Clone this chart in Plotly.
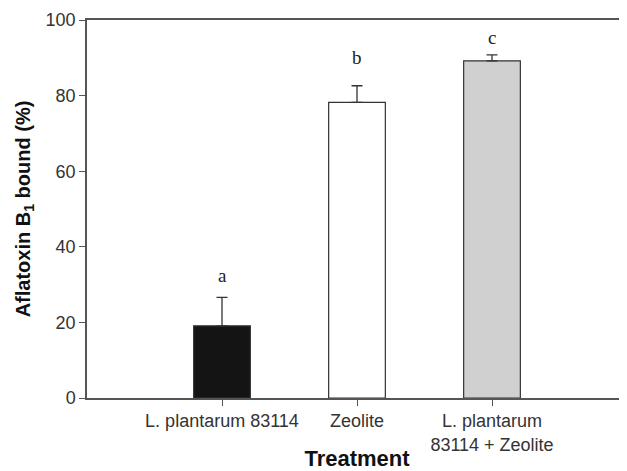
import plotly.graph_objects as go

categories = ["L. plantarum 83114", "Zeolite", "L. plantarum<br>83114 + Zeolite"]
values = [19.1, 78.2, 89.2]
errors = [7.5, 4.4, 1.6]
letters = ["a", "b", "c"]
letter_y = [32.5, 90.0, 95.5]
colors = ["#141414", "#ffffff", "#d0d0d0"]

x = [0, 1, 2]
fig = go.Figure()
fig.add_trace(go.Bar(
    x=x, y=values, width=0.42,
    marker=dict(color=colors, line=dict(color="#333333", width=1.2)),
    error_y=dict(type="data", symmetric=False, array=errors,
                 arrayminus=[0, 0, 0], color="#333333", thickness=1.3, width=5.5),
    showlegend=False,
))
for xi, lt, ly in zip(x, letters, letter_y):
    fig.add_annotation(x=xi, y=ly, text=lt, showarrow=False,
                       font=dict(family="Liberation Serif", size=19, color="#222222"),
                       yanchor="middle")

fig.update_layout(
    width=619, height=463,
    margin=dict(l=79, r=0, t=12, b=73),
    plot_bgcolor="white", paper_bgcolor="white",
    font=dict(family="Liberation Sans, Arial", size=17, color="#333333"),
)
fig.update_xaxes(
    range=[-1, 3], tickvals=x, ticktext=categories, automargin=False,
    showline=True, linecolor="#555555", linewidth=1.5, mirror=True,
    ticks="outside", ticklen=6, tickcolor="#555555", showgrid=False, zeroline=False,
    tickfont=dict(size=18, color="#333333"),
    title=dict(text="<b>Treatment</b>", font=dict(size=22, color="#111111"), standoff=2),
)
fig.update_yaxes(
    range=[0, 100], tickvals=[0, 20, 40, 60, 80, 100], automargin=False,
    showline=True, linecolor="#555555", linewidth=1.5,
    ticks="outside", ticklen=6, tickcolor="#555555", showgrid=False, zeroline=False,
    tickfont=dict(size=18, color="#333333"),
    title=dict(text="<b>Aflatoxin B<sub>1</sub> bound (%)</b>", font=dict(size=20, color="#111111"), standoff=10),
)
fig.write_html("out.html")
